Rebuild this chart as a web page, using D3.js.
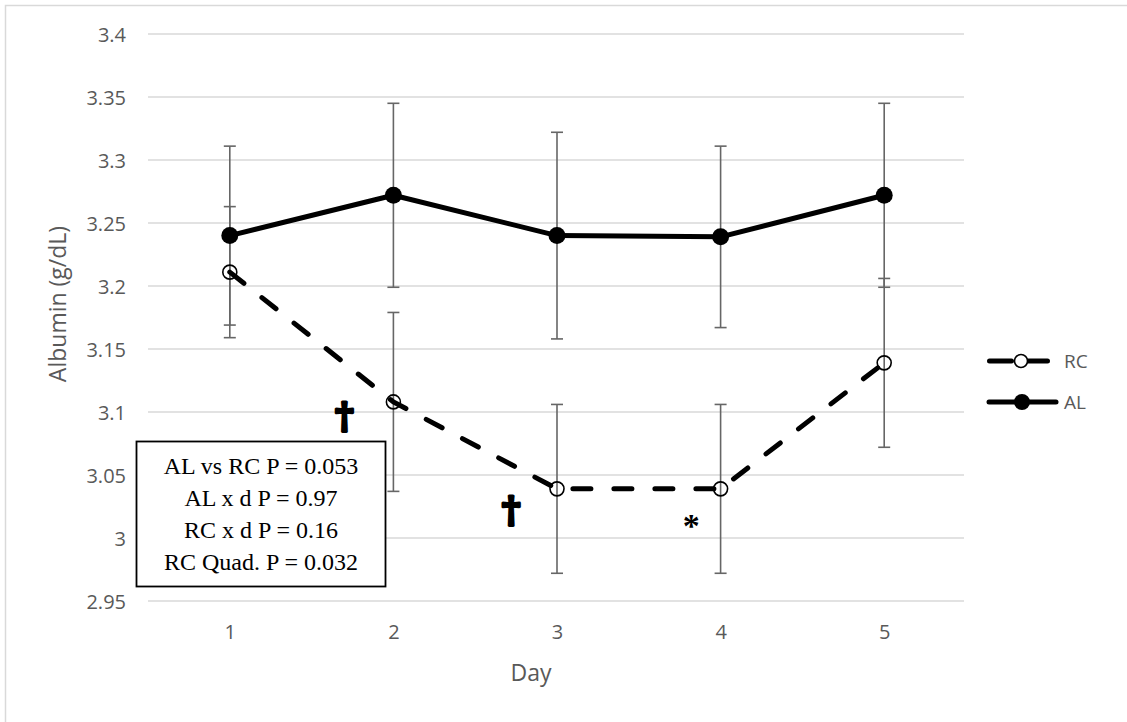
<!DOCTYPE html>
<html>
<head>
<meta charset="utf-8">
<script src="https://cdn.jsdelivr.net/npm/d3@7"></script>
<style>
  html, body { margin: 0; padding: 0; background: #fff; }
  svg { display: block; }
</style>
</head>
<body>
<script>
// Albumin concentration by day for two feeding groups (mean ± error)
const days = [1, 2, 3, 4, 5];
const alMean = [3.240, 3.272, 3.240, 3.239, 3.272];
const alErr  = [0.071, 0.073, 0.082, 0.072, 0.073];
const rcMean = [3.211, 3.108, 3.039, 3.039, 3.139];
const rcErr  = [0.052, 0.071, 0.067, 0.067, 0.067];
const yTicks = [2.95, 3, 3.05, 3.1, 3.15, 3.2, 3.25, 3.3, 3.35, 3.4];
const statLines = [
  "AL vs RC P = 0.053",
  "AL x d P = 0.97",
  "RC x d P = 0.16",
  "RC Quad. P = 0.032"
];
// significance marks placed beside points
const marks = [
  { day: 2, dx: -0.3, value: 3.096, sym: "†" },
  { day: 3, dx: -0.28, value: 3.021, sym: "†" },
  { day: 4, dx: -0.18, value: 3.014, sym: "*" }
];

const W = 1127, H = 722;
const plot = { left: 148, right: 966, top: 34, bottom: 601 };
const gray = "#595959";

const svg = d3.select("body").append("svg")
  .attr("width", W).attr("height", H);

// outer chart frame
svg.append("rect")
  .attr("x", 5.5).attr("y", 5.5)
  .attr("width", W).attr("height", H)
  .attr("fill", "none").attr("stroke", "#d9d9d9").attr("stroke-width", 1.5);

const x = d3.scalePoint().domain(days).range([plot.left, plot.right]).padding(0.5);
const y = d3.scaleLinear().domain([2.95, 3.4]).range([plot.bottom, plot.top]);

// horizontal gridlines
svg.append("g").selectAll("line").data(yTicks).join("line")
  .attr("x1", plot.left).attr("x2", plot.right - 2)
  .attr("y1", d => y(d)).attr("y2", d => y(d))
  .attr("stroke", "#d9d9d9").attr("stroke-width", 1.5);

// y axis tick labels
const yAxis = d3.axisLeft(y).tickValues(yTicks).tickSize(0).tickPadding(0)
  .tickFormat(d => String(+d.toFixed(2)));
const gy = svg.append("g").attr("transform", `translate(${plot.left - 22},0)`).call(yAxis);
gy.select(".domain").remove();
gy.selectAll("text")
  .attr("font-family", "'Open Sans', sans-serif").attr("font-size", 20)
  .attr("fill", gray).attr("dy", "0.35em");

// x axis tick labels
const xAxis = d3.axisBottom(x).tickSize(0).tickPadding(0);
const gx = svg.append("g").attr("transform", `translate(0,${plot.bottom + 24})`).call(xAxis);
gx.select(".domain").remove();
gx.selectAll("text")
  .attr("font-family", "'Open Sans', sans-serif").attr("font-size", 20)
  .attr("fill", gray).attr("dy", "0.71em");

// axis titles
svg.append("text")
  .attr("transform", "translate(66,304) rotate(-90)")
  .attr("text-anchor", "middle")
  .attr("font-family", "'Open Sans', sans-serif").attr("font-size", 23)
  .attr("fill", gray).text("Albumin (g/dL)");
svg.append("text")
  .attr("x", 531).attr("y", 681)
  .attr("text-anchor", "middle")
  .attr("font-family", "'Open Sans', sans-serif").attr("font-size", 23)
  .attr("fill", gray).text("Day");

// error bars
function errorBars(means, errs) {
  const g = svg.append("g").attr("stroke", "#666").attr("stroke-width", 1.6);
  const data = days.map((d, i) => ({ d, lo: means[i] - errs[i], hi: means[i] + errs[i] }));
  g.selectAll(".v").data(data).join("line")
    .attr("x1", e => x(e.d)).attr("x2", e => x(e.d))
    .attr("y1", e => y(e.lo)).attr("y2", e => y(e.hi));
  ["lo", "hi"].forEach(k => {
    g.selectAll(".c" + k).data(data).join("line")
      .attr("x1", e => x(e.d) - 6).attr("x2", e => x(e.d) + 6)
      .attr("y1", e => y(e[k])).attr("y2", e => y(e[k]));
  });
}
errorBars(alMean, alErr);
errorBars(rcMean, rcErr);

const line = d3.line().x((v, i) => x(days[i])).y(v => y(v));

// RC dashed line
svg.append("path").datum(rcMean)
  .attr("d", line).attr("fill", "none")
  .attr("stroke", "#000").attr("stroke-width", 5)
  .attr("stroke-linecap", "round").attr("stroke-dasharray", "18,23");

// AL solid line
svg.append("path").datum(alMean)
  .attr("d", line).attr("fill", "none")
  .attr("stroke", "#000").attr("stroke-width", 5)
  .attr("stroke-linejoin", "round");

// markers
svg.append("g").selectAll("circle").data(rcMean).join("circle")
  .attr("cx", (v, i) => x(days[i])).attr("cy", v => y(v)).attr("r", 7)
  .attr("fill", "none").attr("stroke", "#000").attr("stroke-width", 1.6);
svg.append("g").selectAll("circle").data(alMean).join("circle")
  .attr("cx", (v, i) => x(days[i])).attr("cy", v => y(v)).attr("r", 8.5)
  .attr("fill", "#000");

// significance symbols (heavy daggers, plain bold asterisk)
svg.append("g").selectAll("text").data(marks).join("text")
  .attr("x", m => x(m.day) + m.dx * x.step())
  .attr("y", m => y(m.value))
  .attr("text-anchor", "middle")
  .attr("dy", m => m.sym === "*" ? "0.5em" : "0.3em")
  .attr("font-family", m => m.sym === "*" ? "'Liberation Serif', serif" : "'DejaVu Serif', serif")
  .attr("font-weight", "bold")
  .attr("font-size", m => m.sym === "*" ? 34 : 35)
  .attr("fill", "#000")
  .attr("stroke", m => m.sym === "*" ? "none" : "#000")
  .attr("stroke-width", 3)
  .attr("stroke-linejoin", "round")
  .text(m => m.sym);

// statistics box
const box = svg.append("g");
box.append("rect")
  .attr("x", 136.5).attr("y", 441.5).attr("width", 249).attr("height", 145)
  .attr("fill", "#fff").attr("stroke", "#000").attr("stroke-width", 1.8);
box.selectAll("text").data(statLines).join("text")
  .attr("x", 261).attr("y", (d, i) => 474 + i * 32)
  .attr("text-anchor", "middle")
  .attr("font-family", "'Liberation Serif', 'Times New Roman', serif")
  .attr("font-size", 24).attr("fill", "#000")
  .text(d => d);

// legend
const legend = svg.append("g");
const legendItems = [
  { name: "RC", y: 361, dashed: true },
  { name: "AL", y: 402, dashed: false }
];
legendItems.forEach(it => {
  const g = legend.append("g");
  if (it.dashed) {
    g.append("line").attr("x1", 989.5).attr("x2", 1048)
      .attr("y1", it.y).attr("y2", it.y)
      .attr("stroke", "#000").attr("stroke-width", 5)
      .attr("stroke-linecap", "round").attr("stroke-dasharray", "22,14");
    g.append("circle").attr("cx", 1021).attr("cy", it.y).attr("r", 6.5)
      .attr("fill", "#fff").attr("stroke", "#000").attr("stroke-width", 1.6);
  } else {
    g.append("line").attr("x1", 989).attr("x2", 1056)
      .attr("y1", it.y).attr("y2", it.y)
      .attr("stroke", "#000").attr("stroke-width", 5)
      .attr("stroke-linecap", "round");
    g.append("circle").attr("cx", 1022).attr("cy", it.y).attr("r", 8)
      .attr("fill", "#000");
  }
  g.append("text").attr("x", 1064).attr("y", it.y).attr("dy", "0.35em")
    .attr("font-family", "'Open Sans', sans-serif").attr("font-size", 19)
    .attr("fill", gray).text(it.name);
});
</script>
</body>
</html>
